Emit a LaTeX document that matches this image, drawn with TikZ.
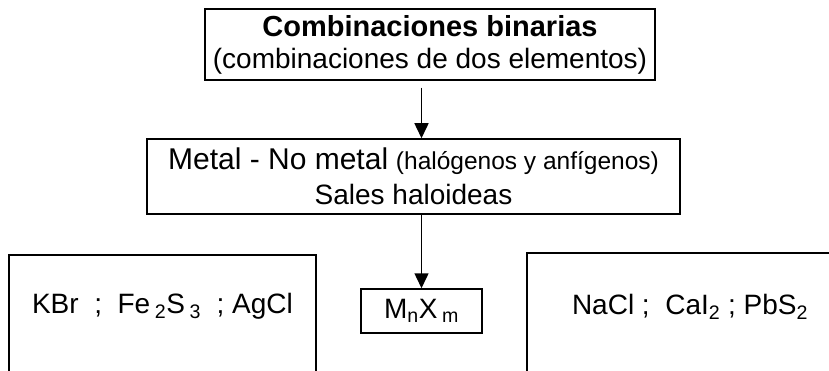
\documentclass[tikz,border=0pt]{standalone}
\usepackage{fontspec}
\setmainfont{Liberation Sans}
\usetikzlibrary{arrows.meta}

\tikzset{
  caja/.style={draw, line width=1.5pt, inner sep=0pt, align=center,
    font=\fontsize{28}{32}\selectfont},
  flecha/.style={line width=1.5pt, -{Triangle[length=15pt,width=14pt]}},
}

\begin{document}
\begin{tikzpicture}[x=1pt,y=-1pt]
\clip (0,0) rectangle (829,371);
% cajas centrales
\node[caja, minimum width=450pt, minimum height=71pt] (binarias) at (430,44.5)
  {{\fontsize{29}{32}\selectfont\bfseries Combinaciones binarias}\\(combinaciones de dos elementos)};
\node[caja, minimum width=533pt, minimum height=75pt,
  font=\fontsize{28}{35}\selectfont] (sales) at (413.5,176.5)
  {{\fontsize{30}{35}\selectfont Metal~-~No metal}~{\fontsize{24.5}{28}\selectfont(halógenos y anfígenos)}\\Sales haloideas};
\node[caja, minimum width=121pt, minimum height=44pt] (formula) at (421.5,311)
  {M\textsubscript{n}X\,\textsubscript{m}};
% ejemplos
\node[caja, minimum width=307pt, text height=58pt, text depth=70pt, anchor=base]
  (ejemplos1) at (162.5,313)
  {KBr~~;~~Fe\,\textsubscript{2}S\,\textsubscript{3}~~;~AgCl};
\node[caja, minimum width=326pt, text height=61pt, text depth=70pt, anchor=base]
  (ejemplos2) at (690,314)
  {NaCl ;~~CaI\textsubscript{2} ; PbS\textsubscript{2}};
% flechas
\draw[flecha, shorten <=7pt] (binarias.south -| formula.north) -- (sales.north -| formula.north);
\draw[flecha] (sales.south -| formula.north) -- (formula.north);
\end{tikzpicture}
\end{document}
